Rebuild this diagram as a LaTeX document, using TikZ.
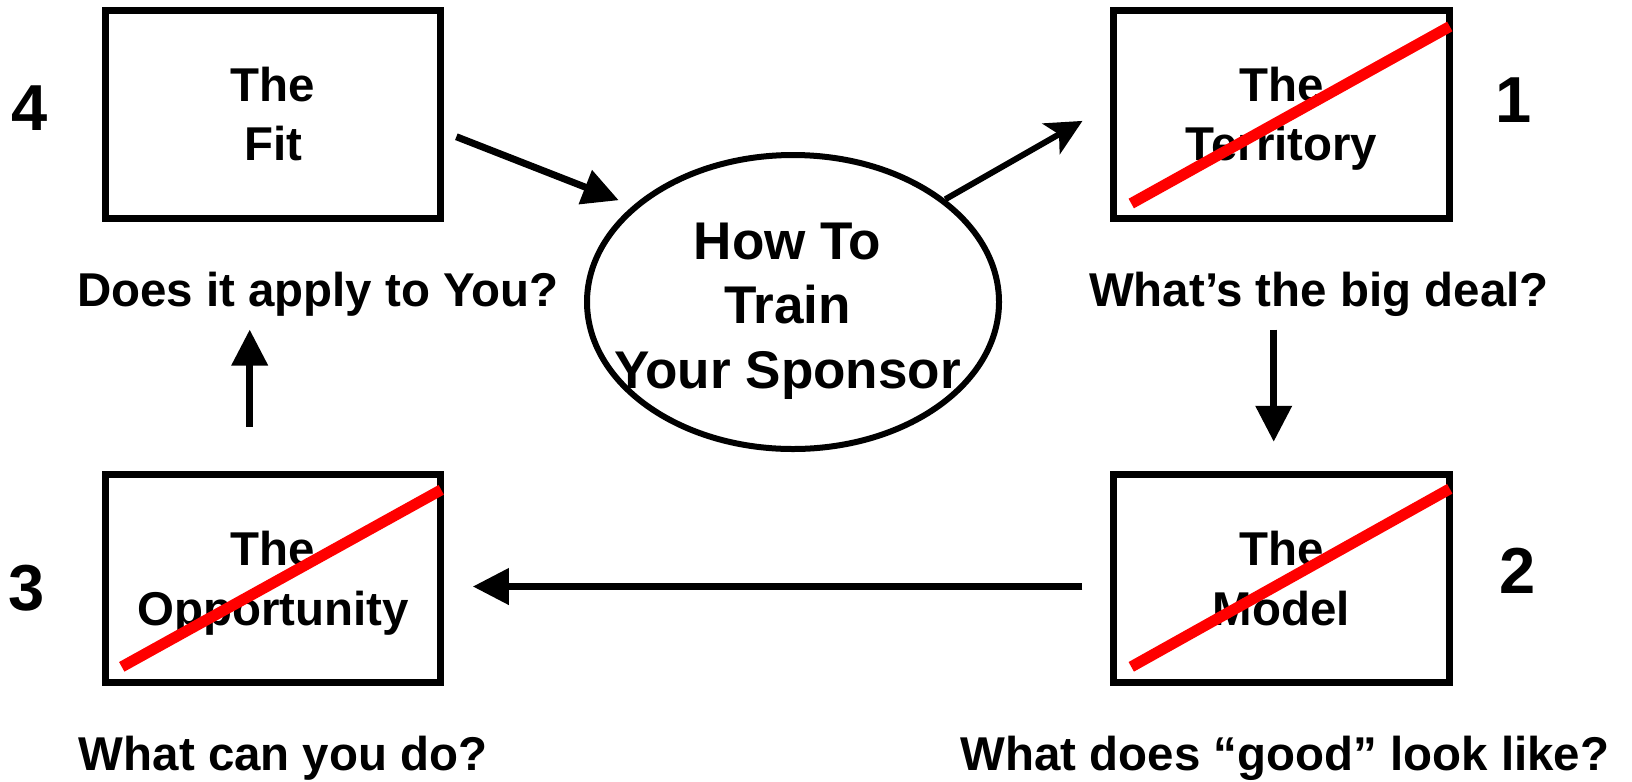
\documentclass[tikz,border=0pt]{standalone}
\usepackage{fontspec}
\setmainfont{Liberation Sans}
\usetikzlibrary{arrows.meta,shapes.geometric}
\colorlet{rex}{red}

\begin{document}
\begin{tikzpicture}[
        box/.style={draw,line width=0.07cm,minimum width=3.355cm,minimum height=2.08cm,
            inner sep=0pt,align=center,text depth=0pt,font=\bfseries\fontsize{13.5}{16.8}\selectfont},
        ask/.style={anchor=base,inner sep=0pt,font=\bfseries\fontsize{13.5}{16.2}\selectfont},
        num/.style={anchor=base,inner sep=0pt,font=\bfseries\fontsize{18.5}{22}\selectfont},
        arr/.style={line width=0.07cm,-{Triangle[length=0.36cm,width=0.35cm]}},
        cross/.style={rex,line width=0.11cm},
    ]
        \useasboundingbox (0,0) rectangle (16.32,7.81);

        % the four steps
        \node [box] (fit)   at (2.73,6.67)   {The\\Fit};
        \node [box] (terr)  at (12.815,6.67) {The\\Territory};
        \node [box] (opp)   at (2.73,2.027)  {The\\Opportunity};
        \node [box] (model) at (12.815,2.027) {The\\Model};

        % the hub
        \node [ellipse,draw,line width=0.06cm,minimum width=4.12cm,minimum height=2.94cm] (sponsor) at (7.93,4.79) {};
        \node [align=center,inner sep=0pt,text depth=0pt,font=\bfseries\fontsize{15.1}{18.4}\selectfont]
            (sponsortext) at (7.875,4.755) {How To\\Train\\Your Sponsor};

        % questions
        \node [ask] (apply)   at (3.178,4.743)  {Does it apply to You?};
        \node [ask] (bigdeal) at (13.188,4.743) {What’s the big deal?};
        \node [ask] (cando)   at (2.832,0.11)   {What can you do?};
        \node [ask] (good)    at (12.849,0.11)  {What does “good” look like?};

        % numbers
        \node [num] (n4) at (0.30,6.51)  {4};
        \node [num] (n1) at (15.14,6.583) {1};
        \node [num] (n3) at (0.27,1.71)  {3};
        \node [num] (n2) at (15.18,1.877) {2};

        % crossed out
        \draw [cross] ([shift={(0.21,0.18)}]terr.south west) -- ([shift={(-0.03,-0.2)}]terr.north east);
        \draw [cross] ([shift={(0.21,0.19)}]model.south west) -- ([shift={(-0.03,-0.18)}]model.north east);
        \draw [cross] ([shift={(0.20,0.19)}]opp.south west) -- ([shift={(-0.03,-0.19)}]opp.north east);

        % the cycle
        \draw [arr,shorten <=0.13cm,shorten >=0.15cm] (fit.-6.8) -- (sponsor.149.7);
        \draw [line width=0.06cm,-{Stealth[length=0.36cm,width=0.35cm,inset=0.09cm]},shorten >=0.32cm]
            (sponsor.34.5) -- (terr.177.8);
        \draw [arr,shorten <=1.08cm,shorten >=0.29cm] ([xshift=-0.078cm]terr.south) -- ([xshift=-0.078cm]model.north);
        \draw [arr,shorten <=0.28cm,shorten >=0.285cm] ([yshift=-0.082cm]model.west) -- ([yshift=-0.082cm]opp.east);
        \draw [arr,shorten <=0.44cm,shorten >=1.08cm] ([xshift=-0.233cm]opp.north) -- ([xshift=-0.233cm]fit.south);
    \end{tikzpicture}
\end{document}
